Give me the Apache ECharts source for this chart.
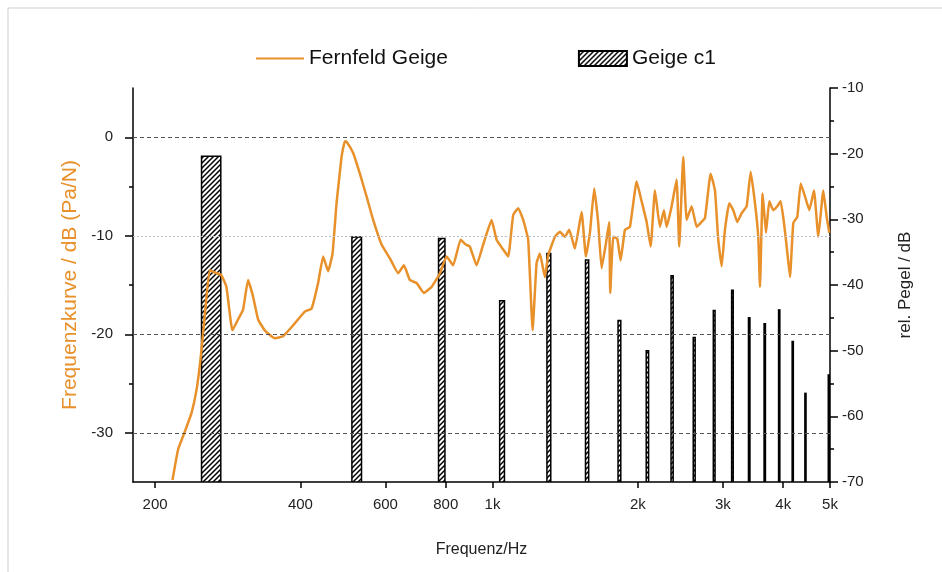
<!DOCTYPE html>
<html>
<head>
<meta charset="utf-8">
<script src="https://cdn.jsdelivr.net/npm/echarts@6/dist/echarts.min.js"></script>
<style>
  html, body { margin: 0; padding: 0; background: #fff; }
  #chart { width: 942px; height: 572px; }
</style>
</head>
<body>
<div id="chart"></div>
<script>
// Frequenzkurve (Fernfeld Geige), linke Achse
const lineFreq = [217.3, 223.2, 230.4, 237.9, 243.6, 248.3, 253.4, 259.5, 268.0, 274.4, 281.1, 289.2, 297.1,
  304.3, 311.6, 319.2, 326.9, 337.5, 354.0, 368.3, 386.3, 408.4, 421.7, 435.2, 445.8, 456.5, 466.2, 475.2,
  486.7, 494.4, 498.4, 514.4, 531.1, 548.3, 565.9, 589.0, 612.9, 637.6, 655.2, 674.2, 696.1, 720.7, 747.7,
  778.0, 803.3, 828.8, 858.7, 880.5, 897.4, 926.6, 956.3, 995.4, 1019.5, 1051.9, 1077.4, 1103.5, 1130.0,
  1157.4, 1185.2, 1210.6, 1233.6, 1253.4, 1283.4, 1304.0, 1346.4, 1378.7, 1412.1, 1441.3, 1481.0, 1529.2,
  1560.9, 1591.0, 1623.9, 1655.2, 1682.1, 1716.9, 1744.4, 1752.8, 1778.3, 1812.6, 1842.0, 1880.1, 1925.6,
  1988.2, 2036.0, 2085.3, 2125.6, 2169.6, 2221.7, 2264.6, 2293.9, 2349.5, 2405.9, 2436.0, 2483.0, 2523.9,
  2584.5, 2647.1, 2698.2, 2754.2, 2829.9, 2888.5, 2934.1, 2982.4, 3029.5, 3092.2, 3151.9, 3212.7, 3280.7,
  3360.2, 3425.1, 3495.9, 3551.1, 3580.6, 3626.3, 3684.4, 3742.5, 3814.7, 3888.3, 3951.5, 4014.8, 4066.9,
  4131.1, 4197.3, 4277.3, 4347.8, 4437.8, 4529.7, 4631.9, 4728.9, 4842.4, 4922.1, 4983.0];
const lineDb = [-34.8, -31.7, -29.9, -28.0, -25.7, -22.6, -18.2, -13.5, -13.8, -14.0, -15.2, -19.6, -18.5,
  -17.5, -14.5, -16.2, -18.5, -19.6, -20.4, -20.2, -19.1, -17.7, -17.4, -14.8, -12.1, -13.6, -11.8, -6.7,
  -2.0, -0.4, -0.45, -1.6, -3.7, -6.0, -8.4, -10.9, -12.3, -13.8, -13.0, -14.5, -14.8, -15.8, -15.2,
  -13.8, -12.1, -13.0, -10.4, -10.9, -11.1, -13.0, -10.9, -8.4, -10.4, -11.4, -12.1, -7.9, -7.2,
  -8.4, -10.4, -19.6, -12.8, -11.8, -14.2, -12.0, -10.1, -9.6, -10.1, -9.4, -11.3, -7.6,
  -12.1, -9.7, -5.2, -8.7, -13.3, -10.8, -8.6, -15.8, -10.1, -10.3, -12.5, -9.4, -9.1,
  -4.5, -6.5, -8.6, -11.1, -5.4, -9.1, -7.4, -9.1, -7.0, -4.3, -11.1, -2.0, -8.4,
  -7.0, -9.1, -8.7, -8.2, -3.7, -5.4, -10.4, -13.1, -9.4, -6.7, -7.4, -8.6, -7.7,
  -7.0, -3.5, -6.7, -10.1, -15.2, -5.7, -9.7, -6.5, -7.4, -7.0, -6.5, -8.7, -11.1,
  -14.2, -8.7, -8.1, -4.7, -6.0, -7.4, -5.4, -10.1, -5.4, -8.1, -9.7];

// Teiltöne Geige c1, rechte Achse
const harmonicFreq = [261.6, 523.3, 784.9, 1046.5, 1308.1, 1569.8, 1831.4, 2093.0, 2354.6, 2616.3,
  2877.9, 3139.5, 3401.1, 3662.8, 3924.4, 4186.0, 4447.6, 4970.9];
const harmonicLevel = [-20.4, -32.7, -32.9, -42.4, -35.2, -36.2, -45.4, -50.0, -38.6, -48.0,
  -43.9, -40.8, -45.0, -45.9, -43.8, -48.6, -56.5, -53.7];

const freqTicks = [200, 400, 600, 800, 1000, 2000, 3000, 4000, 5000];
const leftTicks = [0, -10, -20, -30];
const leftMinorTicks = [-5, -15, -25];

const ORANGE = '#E8902A';
const FONT = '"Liberation Sans", Arial, sans-serif';
const BAR_HALF_HZ = 12;

function hatch() {
  const c = document.createElement('canvas');
  c.width = c.height = 5;
  const g = c.getContext('2d');
  g.fillStyle = '#fff';
  g.fillRect(0, 0, 5, 5);
  g.strokeStyle = '#000';
  g.lineWidth = 1.5;
  g.beginPath();
  g.moveTo(0, 5); g.lineTo(5, 0);
  g.moveTo(-1, 1); g.lineTo(1, -1);
  g.moveTo(4, 6); g.lineTo(6, 4);
  g.stroke();
  return c;
}
const hatchFill = { image: hatch(), repeat: 'repeat' };

const chart = echarts.init(document.getElementById('chart'));

const labelStyle = { color: '#222', fontSize: 15, fontFamily: FONT };

chart.setOption({
  animation: false,
  textStyle: { fontFamily: FONT },
  graphic: [{
    type: 'rect', shape: { x: 8, y: 8, width: 960, height: 600 },
    style: { fill: 'none', stroke: '#cfcfcf', lineWidth: 1 }, silent: true
  }],
  legend: {
    left: 250, top: 43,
    itemWidth: 48, itemHeight: 15, itemGap: 130,
    textStyle: { fontSize: 21, color: '#111', fontFamily: FONT },
    data: [
      { name: 'Fernfeld Geige', itemStyle: { color: 'rgba(0,0,0,0)', opacity: 0, borderWidth: 0 } },
      { name: 'Geige c1', icon: 'rect' }
    ]
  },
  grid: { left: 133, right: 112, top: 88, bottom: 90 },
  xAxis: {
    type: 'log', min: 180, max: 5000,
    name: 'Frequenz/Hz', nameLocation: 'middle', nameGap: 60,
    nameTextStyle: { fontSize: 16, color: '#222', fontFamily: FONT },
    axisLine: { onZero: false, lineStyle: { color: '#000', width: 1.5 } },
    axisTick: { customValues: freqTicks, length: 6, lineStyle: { color: '#000', width: 1.5 } },
    axisLabel: Object.assign({
      customValues: freqTicks, margin: 15,
      formatter: v => v >= 1000 ? (v / 1000) + 'k' : String(v)
    }, labelStyle),
    splitLine: { show: false },
    minorTick: { show: false }
  },
  yAxis: [{
    type: 'value', min: -35, max: 5, position: 'left',
    name: 'Frequenzkurve / dB (Pa/N)', nameLocation: 'middle', nameGap: 52, nameRotate: 90,
    nameTextStyle: { fontSize: 21, color: ORANGE, fontFamily: FONT },
    axisLine: { show: true, lineStyle: { color: '#000', width: 1.5 } },
    axisTick: { show: true, customValues: leftTicks, length: 8, lineStyle: { color: '#000', width: 1.5 } },
    axisLabel: Object.assign({ customValues: leftTicks, margin: 20 }, labelStyle),
    splitLine: { show: false }
  }, {
    type: 'value', min: -70, max: -10, interval: 10, position: 'right',
    name: 'rel. Pegel / dB', nameLocation: 'middle', nameGap: 67, nameRotate: 90,
    nameTextStyle: { fontSize: 17, color: '#222', fontFamily: FONT },
    axisLine: { show: true, lineStyle: { color: '#000', width: 1.5 } },
    axisTick: { show: true, length: 8, lineStyle: { color: '#000', width: 1.5 } },
    minorTick: { show: true, splitNumber: 2, length: 4, lineStyle: { color: '#000', width: 1.5 } },
    axisLabel: Object.assign({ margin: 12 }, labelStyle),
    splitLine: { show: false }
  }, {
    // nur Zwischenstriche der linken Achse
    type: 'value', min: -35, max: 5, position: 'left', offset: 0,
    axisLine: { show: false },
    axisTick: { show: true, customValues: leftMinorTicks, length: 4, lineStyle: { color: '#000', width: 1.5 } },
    axisLabel: { show: false },
    splitLine: { show: false }
  }],
  series: [{
    name: 'Geige c1',
    type: 'custom',
    xAxisIndex: 0, yAxisIndex: 1,
    clip: true,
    z: 2,
    itemStyle: { color: hatchFill, borderColor: '#000', borderWidth: 1.5 },
    encode: { x: 0, y: 1 },
    data: harmonicFreq.map((f, i) => [f, harmonicLevel[i]]),
    renderItem: (params, api) => {
      const f = api.value(0);
      const tl = api.coord([f - BAR_HALF_HZ, api.value(1)]);
      const br = api.coord([f + BAR_HALF_HZ, -70]);
      return {
        type: 'rect',
        shape: { x: tl[0], y: tl[1], width: br[0] - tl[0], height: br[1] - tl[1] },
        style: { fill: hatchFill, stroke: '#000', lineWidth: 1.5 }
      };
    }
  }, {
    name: 'Fernfeld Geige',
    type: 'line',
    xAxisIndex: 0, yAxisIndex: 0,
    z: 3,
    symbol: 'none',
    smooth: 0.12,
    lineStyle: { color: ORANGE, width: 2.5 },
    itemStyle: { color: ORANGE },
    data: lineFreq.map((f, i) => [f, lineDb[i]]),
    markLine: {
      silent: true, symbol: 'none', label: { show: false },
      lineStyle: { type: [4, 3], color: '#555', width: 1 },
      data: [
        { yAxis: 0 },
        { yAxis: -10, lineStyle: { color: '#b8bcc4', type: [2, 2] } },
        { yAxis: -20 },
        { yAxis: -30 }
      ]
    }
  }]
});
</script>
</body>
</html>
